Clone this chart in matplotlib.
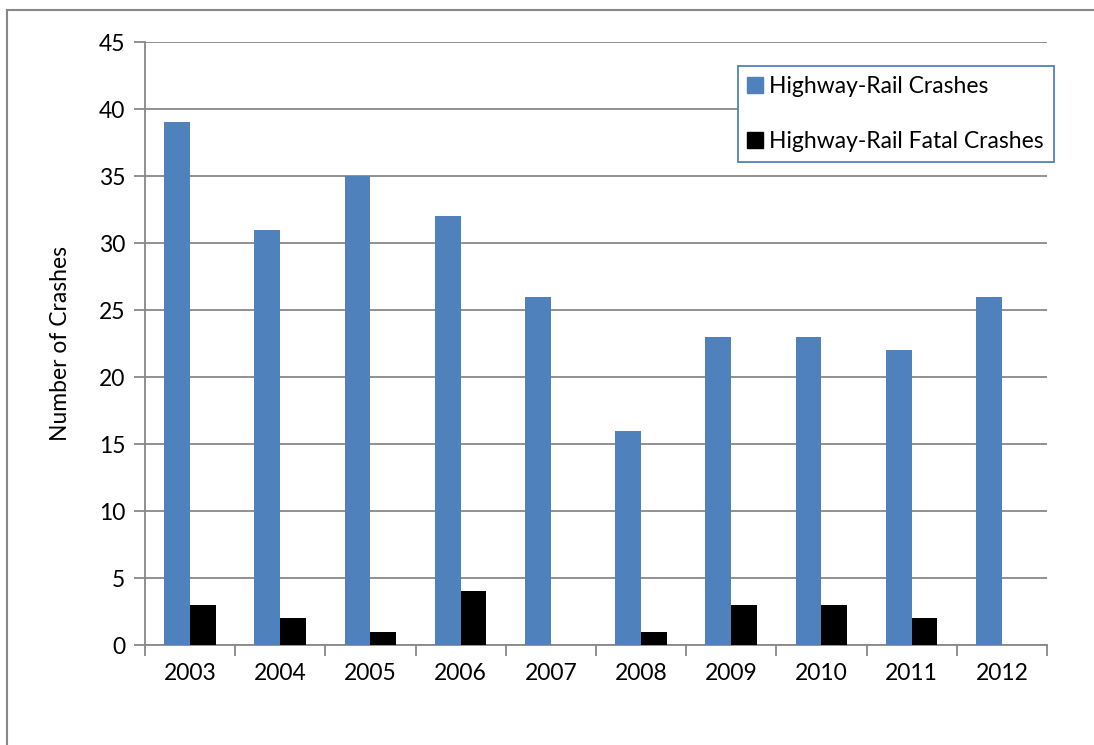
import matplotlib
matplotlib.use("Agg")
import matplotlib.pyplot as plt
from matplotlib.patches import Rectangle
from matplotlib.lines import Line2D
import numpy as np

plt.rcParams['font.family'] = ['Lato', 'DejaVu Sans']

years = ['2003', '2004', '2005', '2006', '2007', '2008', '2009', '2010', '2011', '2012']
crashes = [39, 31, 35, 32, 26, 16, 23, 23, 22, 26]
fatal = [3, 2, 1, 4, 0, 1, 3, 3, 2, 0]

blue = '#4F81BD'
grid = '#888888'
fs = 16.5

fig = plt.figure(figsize=(10.94, 7.45), dpi=100)
ax = fig.add_axes([0.1325, 0.1342, 0.8245, 0.8094])

x = np.arange(len(years))
w = 1 / 3.5
ax.bar(x - w / 2, crashes, w, color=blue, zorder=3)
ax.bar(x + w / 2, fatal, w, color='black', zorder=3)

ax.set_xlim(-0.5, len(years) - 0.5)
ax.set_ylim(0, 45)
ax.set_yticks(range(0, 46, 5))
ax.yaxis.grid(True, color=grid, linewidth=1.3)
ax.set_axisbelow(True)

ax.set_xticks(x)
ax.set_xticklabels(years)
ax.set_xticks(np.arange(-0.5, len(years)), minor=True)
ax.tick_params(axis='x', which='major', length=0, pad=13, labelsize=fs)
ax.tick_params(axis='x', which='minor', length=8, color=grid, width=1.3)
ax.tick_params(axis='y', length=8, color=grid, width=1.3, pad=6, labelsize=fs)

for s in ['top', 'right']:
    ax.spines[s].set_visible(False)
for s in ['left', 'bottom']:
    ax.spines[s].set_color(grid)
    ax.spines[s].set_linewidth(1.3)

ax.set_ylabel('Number of Crashes', fontsize=fs, labelpad=20)

handles = [Line2D([], [], marker='s', linestyle='none', markersize=11, color=blue),
           Line2D([], [], marker='s', linestyle='none', markersize=11, color='black')]
leg = fig.legend(handles, ['Highway-Rail Crashes', 'Highway-Rail Fatal Crashes'],
                 loc='upper left', bbox_to_anchor=(0.6746, 0.9114), fontsize=fs,
                 frameon=True, fancybox=False, framealpha=1, labelspacing=1.5,
                 handlelength=0.6, handletextpad=0.35, borderpad=0.42, borderaxespad=0)
leg.get_frame().set_edgecolor(blue)
leg.get_frame().set_linewidth(1.3)

# chart border (only top and left edges fall inside the image)
fig.patches.append(Rectangle((7 / 1094, -0.2), 1.2, 0.2 + 1 - 10 / 745,
                             transform=fig.transFigure, fill=False,
                             edgecolor=grid, linewidth=1.5))

fig.savefig('out.png', dpi=100)
